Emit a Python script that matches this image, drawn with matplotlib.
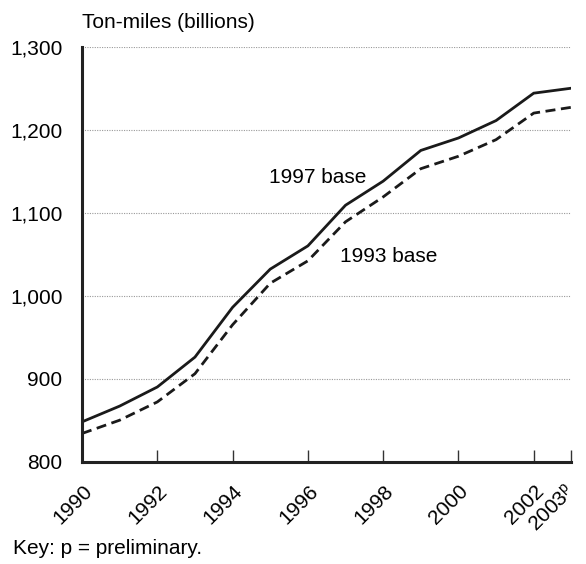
import numpy as np
import matplotlib
matplotlib.use("Agg")
import matplotlib.pyplot as plt
from matplotlib.transforms import ScaledTranslation

plt.rcParams['font.family'] = ['Liberation Sans', 'DejaVu Sans']
plt.rcParams['mathtext.fontset'] = 'custom'
plt.rcParams['mathtext.rm'] = 'Liberation Sans'
plt.rcParams['mathtext.it'] = 'Liberation Sans'

years = [1990, 1991, 1992, 1993, 1994, 1995, 1996, 1997, 1998, 1999, 2000, 2001, 2002, 2003]
base_1997 = [848, 867, 890, 926, 986, 1032, 1060, 1109, 1138, 1175, 1190, 1211, 1244, 1250]
base_1993 = [834, 850, 872, 906, 965, 1015, 1042, 1089, 1119, 1153, 1168, 1188, 1220, 1227]
xticks = [1990, 1992, 1994, 1996, 1998, 2000, 2002, 2003]
xlabels = ["1990", "1992", "1994", "1996", "1998", "2000", "2002", r"2003$^{\mathrm{p}}$"]
yticks = [800, 900, 1000, 1100, 1200, 1300]

fs = 15
fig = plt.figure(figsize=(5.86, 5.64), dpi=100)
ax = fig.add_axes([0.14, 0.1814, 0.835, 0.7358])

ax.plot(years, base_1997, color="#1a1a1a", lw=2.0, solid_joinstyle="miter")
ax.plot(years, base_1993, color="#1a1a1a", lw=2.0, ls=(0, (3.6, 2.0)))

ax.set_xlim(1990, 2003)
ax.set_ylim(800, 1300)
ax.set_yticks(yticks)
ax.set_yticklabels(["{:,}".format(v) for v in yticks], fontsize=fs)
ax.set_xticks(xticks)
ax.set_xticklabels(xlabels, fontsize=fs, rotation=45, ha="right", va="center",
                   rotation_mode="anchor")
ax.tick_params(axis="y", length=0, pad=14)
ax.tick_params(axis="x", direction="in", length=8.5, width=1, color="#333333", pad=19)

# nudge the slanted year labels a bit to the right (last one less, it has the p)
labs = ax.get_xticklabels()
for i, lab in enumerate(labs):
    dx = 0.07 if i < len(labs) - 1 else 0.0
    lab.set_transform(lab.get_transform() + ScaledTranslation(dx, 0, fig.dpi_scale_trans))

for v in yticks[1:]:
    ax.axhline(v, color="#999999", lw=0.8, ls=(0, (1, 1.2)), zorder=0)

for s in ["top", "right"]:
    ax.spines[s].set_visible(False)
for s in ["left", "bottom"]:
    ax.spines[s].set_linewidth(2.2)
    ax.spines[s].set_color("#222222")

ax.text(1994.97, 1142, "1997 base", fontsize=fs, ha="left", va="center")
ax.text(1996.85, 1047, "1993 base", fontsize=fs, ha="left", va="center")

fig.text(82 / 586, 1 - 22 / 564, "Ton-miles (billions)", fontsize=fs, ha="left", va="center")
fig.text(13 / 586, 1 - 549 / 564, "Key: p = preliminary.", fontsize=fs, ha="left", va="center")

fig.savefig("out.png", dpi=100)
